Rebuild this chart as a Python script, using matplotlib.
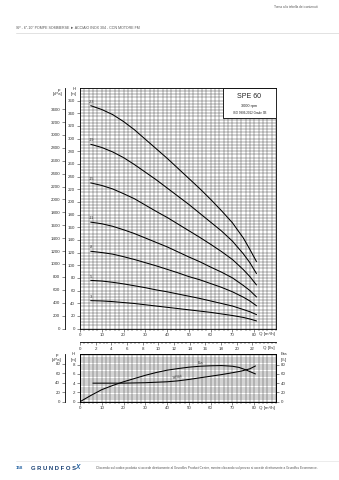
import numpy as np
import matplotlib
matplotlib.use("Agg")
import matplotlib.pyplot as plt
from matplotlib.patches import Rectangle

plt.rcParams['font.family'] = ['Liberation Sans', 'DejaVu Sans']

# ---------------- data ----------------
q_curve = [5, 10, 15, 20, 25, 30, 35, 40, 45, 50, 55, 60, 65, 70, 75, 78, 81]
stage_labels = ["-23", "-19", "-15", "-11", "-8", "-5", "-3"]
h_23 = [352, 346, 338, 327, 314, 299, 284, 269, 253, 237, 221, 204, 186, 167, 143, 125, 106]
h_19 = [291, 286, 279, 270, 259, 247, 235, 222, 209, 196, 182, 168, 154, 138, 118, 104, 87]
h_15 = [230, 226, 220.5, 213, 205, 195, 185, 175.5, 165, 154.5, 144, 133, 121.5, 109, 93, 82, 69]
h_11 = [168, 165.5, 161.5, 156, 150, 143, 136, 129, 121, 113, 105.5, 97, 89, 80, 68, 60, 50]
h_8 = [122, 120, 117.5, 113.5, 109, 104, 99, 93.5, 88, 82, 77, 71, 65, 58, 49.5, 43.5, 36]
h_5 = [76, 75, 73, 70.5, 67.5, 64.5, 61, 58, 54.5, 51, 47.5, 43.5, 39.5, 35.5, 30, 26.5, 22]
h_3 = [44, 43.5, 42.5, 41, 39.5, 37.5, 35.5, 33.5, 31.5, 29.5, 27.5, 25.5, 23, 20.5, 17.5, 15, 12]
head_curves = [h_23, h_19, h_15, h_11, h_8, h_5, h_3]

q_eta = [0, 5, 10, 15, 20, 25, 30, 35, 40, 45, 50, 55, 60, 65, 70, 73, 76, 78, 80.5]
eta = [0, 13.5, 26, 35, 43, 50, 57, 63, 68, 71.5, 74.5, 76.5, 77.5, 78, 76.5, 74, 69, 65, 60]
q_npsh = [6, 10, 20, 30, 40, 45, 50, 55, 60, 65, 70, 74, 78, 80.5]
npsh = [4.0, 4.0, 4.0, 4.1, 4.3, 4.5, 4.8, 5.15, 5.5, 5.85, 6.25, 6.6, 7.1, 7.7]

h_ticks = list(range(0, 361, 20))
p_ticks = list(range(0, 3401, 200))
q_ticks = list(range(0, 81, 10))
ls_ticks = list(range(0, 23, 2))
npsh_ticks = [0, 2, 4, 6, 8]
p2_ticks = [0, 20, 40, 60, 80]
eta_ticks = [0, 20, 40, 60, 80]

# ---------------- layout helpers ----------------
W, H = 339, 480
fig = plt.figure(figsize=(W / 100, H / 100), dpi=100)


def fx(x):
    return x / W


def fy(y):
    return 1 - y / H


TXT = '#333333'
FS = 3.2
GRID = '#333333'

# header
fig.text(fx(318), fy(7), "Torna alla tabella dei contenuti", fontsize=2.3,
         color='#555555', ha='right', va='center')
fig.text(fx(16), fy(28), "SP - 6\"-10\" POMPE SOMMERSE \u25BA ACCIAIO INOX 304 - CON MOTORE FM",
         fontsize=2.6, color='#555555', ha='left', va='center')
fig.add_artist(plt.Line2D([fx(16), fx(339)], [fy(32.5), fy(32.5)], color='#cccccc', lw=0.4))

# ---------------- main chart ----------------
x0, x1 = 80, 276
my0, my1 = 88, 328.5
ax = fig.add_axes([fx(x0), fy(my1), fx(x1) - fx(x0), fy(my0) - fy(my1)])
ax.set_xlim(0, 90)
ax.set_ylim(0, 380)
for v in np.arange(0, 91, 2):
    ax.axvline(v, color=GRID, lw=0.3, zorder=1)
for v in np.arange(0, 381, 5):
    ax.axhline(v, color=GRID, lw=0.3, zorder=1)
for lab, hc in zip(stage_labels, head_curves):
    ax.plot(q_curve, hc, color='black', lw=0.75, zorder=3, solid_joinstyle='round')
    ax.text(5.3, hc[0] + 3, lab, fontsize=2.7, color=TXT, ha='center', va='bottom', zorder=4)
ax.set_xticks(q_ticks)
ax.set_xticks(np.arange(0, 91, 2), minor=True)
ax.set_yticks(h_ticks)
ax.tick_params(axis='both', labelsize=FS, colors=TXT, length=2.2, width=0.4, pad=1.2)
ax.tick_params(axis='x', which='minor', length=1.2, width=0.3)
for s in ax.spines.values():
    s.set_linewidth(0.6)
    s.set_color('black')
# info box
ax.add_patch(Rectangle((0.728, 0.874), 0.272, 0.126, transform=ax.transAxes,
                       facecolor='white', edgecolor='black', lw=0.6, zorder=5))
ax.text(0.864, 0.965, "SPE 60", transform=ax.transAxes, fontsize=5.0, ha='center',
        va='center', color='#222222', zorder=6)
ax.text(0.864, 0.927, "3000 rpm", transform=ax.transAxes, fontsize=2.8, ha='center',
        va='center', color='#222222', zorder=6)
ax.text(0.864, 0.897, "ISO 9906:2012 Grade 3B", transform=ax.transAxes, fontsize=2.2,
        ha='center', va='center', color='#222222', zorder=6)
fig.text(fx(259), fy(334.5), "Q [m\u00b3/h]", fontsize=FS, color=TXT, ha='left', va='center')

# p axis (kPa)
axp = fig.add_axes([fx(65), fy(my1), 0.0001, fy(my0) - fy(my1)])
axp.set_ylim(0, 380 * 9.81)
axp.set_yticks(p_ticks)
axp.set_xticks([])
for k in ['top', 'right', 'bottom']:
    axp.spines[k].set_visible(False)
axp.spines['left'].set_linewidth(0.6)
axp.tick_params(axis='y', labelsize=FS, colors=TXT, length=2.2, width=0.4, pad=1.2)
fig.text(fx(59), fy(89.5), "p", fontsize=FS, color=TXT, ha='center', va='center')
fig.text(fx(58), fy(94.5), "[kPa]", fontsize=FS, color=TXT, ha='center', va='center')
fig.text(fx(74), fy(88.5), "H", fontsize=FS, color=TXT, ha='center', va='center')
fig.text(fx(74), fy(94.5), "[m]", fontsize=FS, color=TXT, ha='center', va='center')

# l/s axis
axl = fig.add_axes([fx(x0), fy(342.3), fx(x1) - fx(x0), 0.0001])
axl.set_xlim(0, 90 / 3.6)
axl.set_xticks(ls_ticks)
axl.set_xticks(np.arange(0, 25.01, 0.5), minor=True)
axl.set_yticks([])
for k in ['top', 'right', 'left']:
    axl.spines[k].set_visible(False)
axl.spines['bottom'].set_linewidth(0.6)
axl.tick_params(axis='x', labelsize=FS, colors=TXT, length=2.2, width=0.4, pad=1.2)
axl.tick_params(axis='x', which='minor', length=1.2, width=0.3)
fig.text(fx(263), fy(348.5), "Q [l/s]", fontsize=FS, color=TXT, ha='left', va='center')

# ---------------- efficiency / NPSH chart ----------------
by0, by1 = 353.5, 401.7
ax2 = fig.add_axes([fx(x0), fy(by1), fx(x1) - fx(x0), fy(by0) - fy(by1)])
ax2.set_xlim(0, 90)
ax2.set_ylim(0, 10.4)
for v in np.arange(0, 91, 2):
    ax2.axvline(v, color=GRID, lw=0.3, zorder=1)
for v in np.arange(0, 10.41, 0.5):
    ax2.axhline(v, color=GRID, lw=0.3, zorder=1)
ax2.plot(q_npsh, npsh, color='black', lw=0.75, zorder=3, solid_joinstyle='round')
ax2.set_xticks(q_ticks)
ax2.set_xticks(np.arange(0, 91, 2), minor=True)
ax2.set_yticks(npsh_ticks)
ax2.tick_params(axis='both', labelsize=FS, colors=TXT, length=2.2, width=0.4, pad=1.2)
ax2.tick_params(axis='x', which='minor', length=1.2, width=0.3)
for s in ax2.spines.values():
    s.set_linewidth(0.6)
ax2e = ax2.twinx()
ax2e.set_ylim(0, 104)
ax2e.plot(q_eta, eta, color='black', lw=0.75, zorder=3, solid_joinstyle='round')
ax2e.set_yticks(eta_ticks)
ax2e.tick_params(axis='y', labelsize=FS, colors=TXT, length=2.2, width=0.4, pad=1.2)
for s in ax2e.spines.values():
    s.set_linewidth(0.6)
ax2e.text(55.2, 84, "Eta", fontsize=2.7, color=TXT, ha='center', va='center')
ax2.text(45, 5.3, "NPSH", fontsize=2.7, color=TXT, ha='center', va='center', rotation=10)
fig.text(fx(259), fy(407.5), "Q [m\u00b3/h]", fontsize=FS, color=TXT, ha='left', va='center')

axp2 = fig.add_axes([fx(65), fy(by1), 0.0001, fy(by0) - fy(by1)])
axp2.set_ylim(0, 10.4 * 9.81)
axp2.set_yticks(p2_ticks)
axp2.set_xticks([])
for k in ['top', 'right', 'bottom']:
    axp2.spines[k].set_visible(False)
axp2.spines['left'].set_linewidth(0.6)
axp2.tick_params(axis='y', labelsize=FS, colors=TXT, length=2.2, width=0.4, pad=1.2)
fig.text(fx(57), fy(355), "p", fontsize=FS, color=TXT, ha='center', va='center')
fig.text(fx(57), fy(360), "[kPa]", fontsize=FS, color=TXT, ha='center', va='center')
fig.text(fx(73.5), fy(354), "H", fontsize=FS, color=TXT, ha='center', va='center')
fig.text(fx(73.5), fy(360), "[m]", fontsize=FS, color=TXT, ha='center', va='center')
fig.text(fx(284), fy(354), "Eta", fontsize=FS, color=TXT, ha='center', va='center')
fig.text(fx(284), fy(360), "[%]", fontsize=FS, color=TXT, ha='center', va='center')

# ---------------- footer ----------------
fig.add_artist(plt.Line2D([fx(16), fx(339)], [fy(460.5), fy(460.5)], color='#dddddd', lw=0.4))
fig.text(fx(16), fy(468), "158", fontsize=3.2, color='#1f5fa0', weight='bold', ha='left', va='center')
fig.text(fx(31), fy(468), "G R U N D F O S", fontsize=4.2, color='#173f73', weight='bold',
         ha='left', va='center')
fig.text(fx(75), fy(467.5), "X", fontsize=4.8, color='#1f5fa0', weight='bold', style='italic',
         ha='left', va='center')
fig.text(fx(96), fy(467.5),
         "Cliccando sul codice prodotto si accede direttamente al Grundfos Product Center, "
         "mentre cliccando sul prezzo si accede direttamente a Grundfos Ecommerce.",
         fontsize=2.25, color='#555555', ha='left', va='center')

fig.savefig("out.png", dpi=100)
